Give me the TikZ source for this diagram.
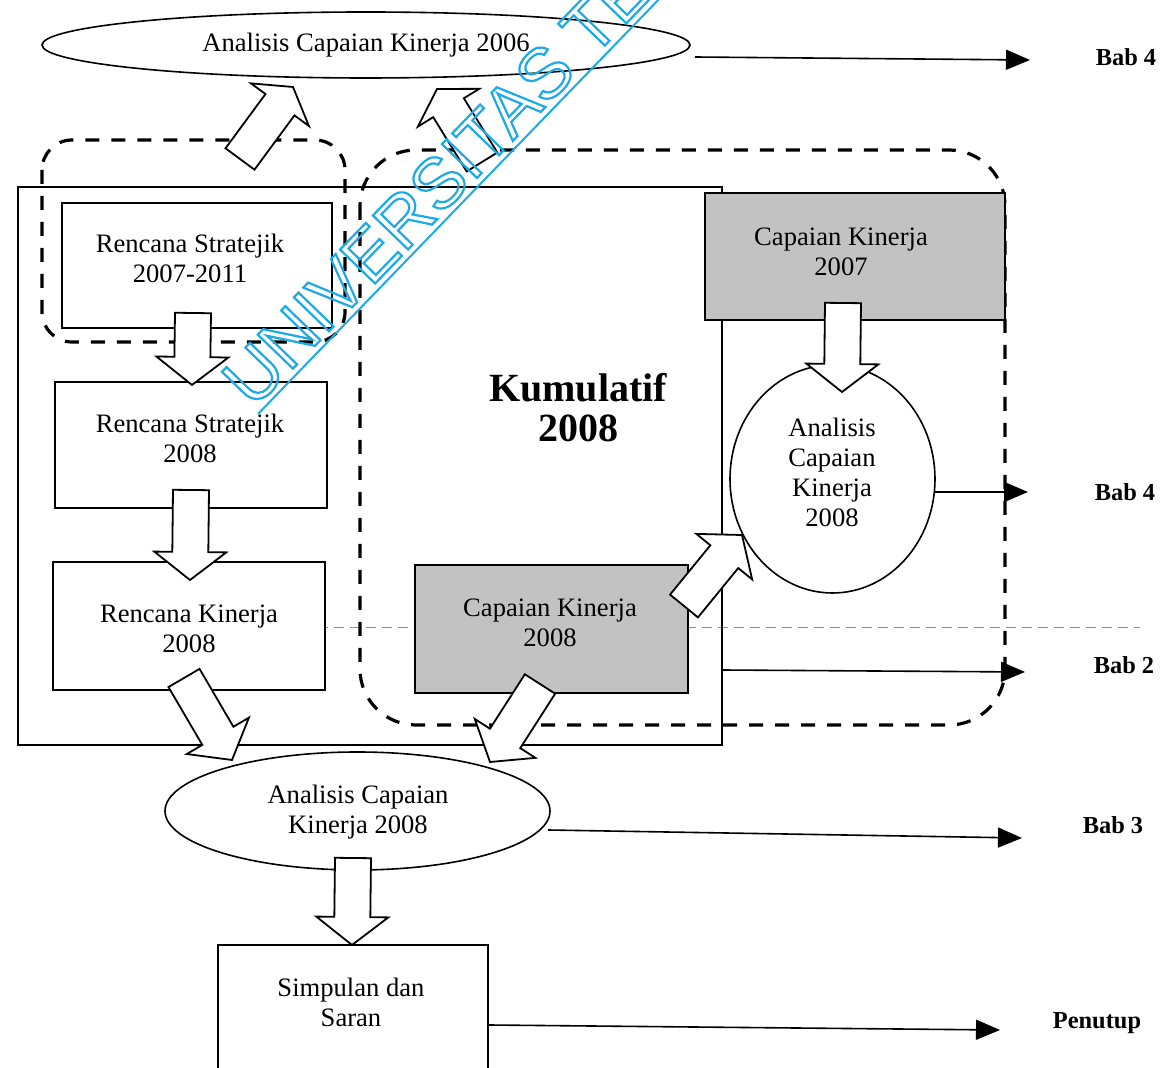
\documentclass[tikz,border=0pt]{standalone}
\usepackage{fontspec}
\setmainfont{Liberation Serif}
\newfontfamily\wmfont{Liberation Sans}
\usetikzlibrary{shapes.geometric,calc,arrows.meta}
\definecolor{wmblue}{RGB}{30,170,230}
\newcommand\bodyfont{\fontsize{13.3}{15}\selectfont}
\newcommand\babfont{\bfseries\fontsize{12.2}{14}\selectfont}
% hollow block arrow from #2 (tail) to #3 (tip); #1 = head length
\newcommand\blockarrow[3][14pt]{%
  \coordinate (ba-h) at ($(#3)!#1!(#2)$);
  \draw[blockarr] ($(#2)!9pt!90:(#3)$) -- ($(ba-h)!9pt!90:(#3)$)
    -- ($(ba-h)!18pt!90:(#3)$) -- (#3) -- ($(ba-h)!18pt!-90:(#3)$)
    -- ($(ba-h)!9pt!-90:(#3)$) -- ($(#2)!9pt!-90:(#3)$) -- cycle;}
\tikzset{
  box/.style={draw, line width=0.8pt, fill=white, inner sep=0pt, align=center, font=\bodyfont},
  shaded/.style={draw, line width=0.8pt, fill=black!24, inner sep=0pt},
  oval/.style={ellipse, draw, line width=0.8pt, fill=white, inner sep=0pt, align=center, font=\bodyfont},
  txt/.style={align=center, font=\bodyfont, inner sep=0pt},
  bab/.style={font=\babfont, inner sep=0pt},
  blockarr/.style={draw, fill=white, line width=0.9pt, line join=miter},
  conn/.style={line width=0.8pt, -{Triangle[length=12pt,width=10pt]}},
  grouped/.style={line width=1.6pt, dash pattern=on 7pt off 6pt},
  frame/.style={line width=1.4pt}
}
\begin{document}
\begin{tikzpicture}[x=0.5pt,y=-0.5pt]
\useasboundingbox (0,0) rectangle (1163,1068);
\clip (0,0) rectangle (1163,1068);
\fill[white] (0,0) rectangle (1163,1068);

% faint table rule running across the page
\draw[black!45, line width=0.4pt, dash pattern=on 5pt off 3pt] (318,627) -- (1140,627);

% solid frame of the planning column
\draw[frame] (18,187) rectangle (722,745);

% dashed groupings
\draw[grouped, rounded corners=15pt] (42,140) rectangle (345,342);
\draw[grouped, rounded corners=28pt] (360,150) rectangle (1005,725);

% boxes and ovals
\node[oval, minimum width=324pt, minimum height=33pt] (a06) at (366,45) {Analisis Capaian Kinerja 2006};
\node[box, minimum width=135pt, minimum height=62.5pt] (rs1) at (197,265.5) {};
\node[txt] (rs1t) at (190,258) {Rencana Stratejik\\2007-2011};
\node[box, minimum width=136pt, minimum height=63pt] (rs2) at (191,445) {};
\node[txt] (rs2t) at (190,438) {Rencana Stratejik\\2008};
\node[box, minimum width=136pt, minimum height=64pt] (rk) at (189,626) {};
\node[txt] (rkt) at (189,629) {Rencana Kinerja\\2008};
\node[shaded, minimum width=150pt, minimum height=63.5pt] (ck7) at (855,256.5) {};
\node[txt] (ck7t) at (841,252) {Capaian Kinerja\\2007};
\node[shaded, minimum width=136.5pt, minimum height=64pt] (ck8) at (551.5,629) {};
\node[txt] (ck8t) at (550,623) {Capaian Kinerja\\2008};
\node[oval, minimum width=102.5pt, minimum height=114pt] (a08c) at (832.5,479) {};
\node[txt] (a08ct) at (832,472) {Analisis\\Capaian\\Kinerja\\2008};
\node[align=center, font=\bfseries\fontsize{20}{20}\selectfont, inner sep=0pt] (kum) at (578,408) {Kumulatif\\2008};
\node[oval, minimum width=192.5pt, minimum height=59pt] (a08) at (357.5,811) {};
\node[txt] (a08t) at (358,812) {Analisis Capaian\\Kinerja 2008};
\node[box, minimum width=135pt, minimum height=65pt] (sim) at (353,1010) {};
\node[txt] (simt) at (351,1002) {Simpulan dan\\Saran};

% chapter labels
\node[bab] (b4a) at (1126,57) {Bab 4};
\node[bab] (b4b) at (1125,492) {Bab 4};
\node[bab] (b2) at (1124,665) {Bab 2};
\node[bab] (b3) at (1113,825) {Bab 3};
\node[bab] (pen) at (1097,1023) {Penutup};

% line connectors to the chapters
\coordinate (t4a) at (1030,60);
\coordinate (t4b) at (1028,492);
\coordinate (t2) at (1025,672);
\coordinate (t3) at (1022,838);
\coordinate (tp) at (1000,1030);
\coordinate (s2) at (722,670);
\draw[conn] ($(a06.east)+(4,12)$) -- (t4a);
\draw[conn] ($(a08c.east)+(-1,13)$) -- (t4b);
\draw[conn] (s2) -- (t2);
\draw[conn] ($(a08.east)+(-3,19)$) -- (t3);
\draw[conn] ($(sim.east)+(0,15)$) -- (tp);

% block arrows between stages
\coordinate (d1s) at (193,313);  \coordinate (d1t) at (192,385);
\coordinate (d2s) at (191,490);  \coordinate (d2t) at (190,580);
\coordinate (d3s) at (843,303);  \coordinate (d3t) at (842,392);
\coordinate (d4s) at (353,858);  \coordinate (d4t) at (352,945);
\coordinate (u1s) at (240,159);  \coordinate (u1t) at (293,87);
\coordinate (u2s) at (482,162);  \coordinate (u2t) at (437,89);
\coordinate (g1s) at (184,678);  \coordinate (g1t) at (232,760);
\coordinate (g2s) at (540,684);  \coordinate (g2t) at (490,762);
\coordinate (g3s) at (684,606);  \coordinate (g3t) at (742,535);
\blockarrow{d1s}{d1t}
\blockarrow{d2s}{d2t}
\blockarrow{d3s}{d3t}
\blockarrow{d4s}{d4t}
\blockarrow[11pt]{u1s}{u1t}
\blockarrow[11pt]{u2s}{u2t}
\blockarrow{g1s}{g1t}
\blockarrow{g2s}{g2t}
\blockarrow{g3s}{g3t}

% outlined watermark lettering with its rule
\coordinate (wm-a) at (258,414);
\coordinate (wm-b) at (664,-6);
\draw[wmblue, line width=1pt] (wm-a) -- (wm-b);
\node[rotate=46, anchor=base west, text=wmblue, inner sep=0pt] (wm) at (253,410)
  {\wmfont\fontsize{35.5}{36}\selectfont\special{pdf:literal direct q 1 Tr 1.1 w}UNIVERSITAS TE\special{pdf:literal direct Q}};
\end{tikzpicture}
\end{document}
